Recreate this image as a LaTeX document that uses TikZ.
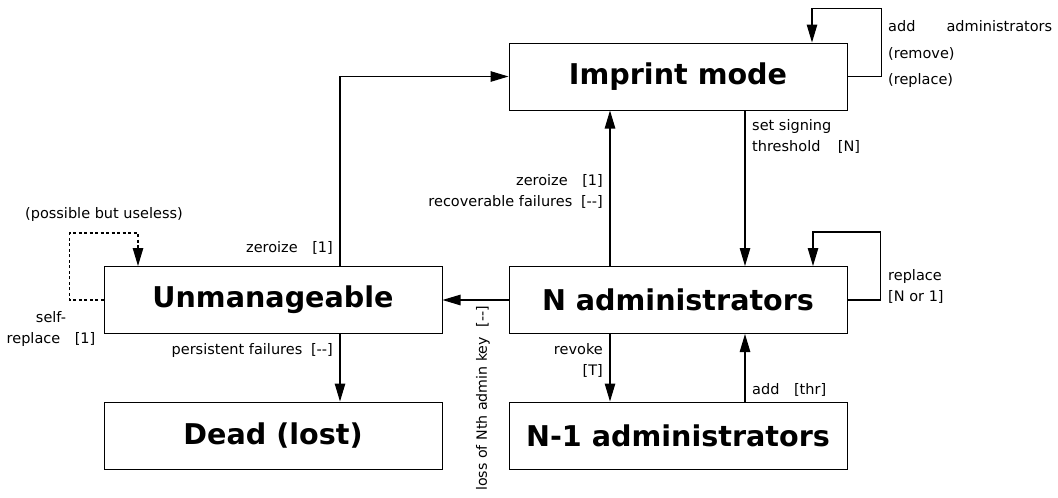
\documentclass[tikz,border=0pt]{standalone}
\usepackage{fontspec}
\setmainfont{DejaVu Sans}
\usetikzlibrary{arrows.meta}
\begin{document}
\begin{tikzpicture}[x=1pt,y=-1pt,
  state/.style={draw, line width=1pt, minimum width=338pt, minimum height=67pt,
    inner sep=0pt, font=\fontsize{28.6}{32}\selectfont\bfseries},
  flow/.style={line width=1.1pt, -{Triangle[length=18pt,width=10.5pt]}},
  lbl/.style={font=\fontsize{14.5}{21}\selectfont, inner sep=0pt},
]
\useasboundingbox (0,0) rectangle (1058,498);

% states
\node[state] (imprint) at (678,76.5)  {Imprint mode};
\node[state] (unman)   at (273,300)   {Unmanageable};
\node[state] (nadm)    at (678,300)   {N administrators};
\node[state] (nm1)     at (678,435.5) {N-1 administrators};
\node[state] (dead)    at (273,435.5) {Dead (lost)};

% transitions
\draw[flow] ([xshift=67pt]unman.north) |- (imprint.west);
\draw[flow] ([xshift=67pt]imprint.south) -- ([xshift=67pt]nadm.north);
\draw[flow] ([xshift=-68pt]nadm.north) -- ([xshift=-68pt]imprint.south);
\draw[flow] (imprint.east) -- ++(34,0) -- ++(0,-68) -| ([xshift=134pt]imprint.north);
\draw[flow] (nadm.east) -- ++(33,0) -- ++(0,-68) -| ([xshift=135pt]nadm.north);
\draw[flow] (nadm.west) -- (unman.east);
\draw[flow] ([xshift=-68pt]nadm.south) -- ([xshift=-68pt]nm1.north);
\draw[flow] ([xshift=67pt]nm1.north) -- ([xshift=67pt]nadm.south);
\draw[flow] ([xshift=67pt]unman.south) -- ([xshift=67pt]dead.north);
\draw[flow, dash pattern=on 3pt off 2.5pt] (unman.west) -- ++(-34,0) -- ++(0,-67) -| ([xshift=-135pt]unman.north);

% transition labels
\node[lbl, anchor=north west, text width=164pt, align=left,
      font=\fontsize{14.5}{26.5}\selectfont] (lblimp) at (888,20.5)
  {add\hfill administrators\\(remove)\\(replace)};
\node[lbl, anchor=north west, align=left] (lblthr) at (752,119.5)
  {set signing\\threshold\hspace{1.2em}[N]};
\node[lbl, anchor=north east, align=right] (lblzero) at (603,174.5)
  {zeroize\hspace{1em}[1]\\recoverable failures\hspace{0.6em}[-{}-]};
\node[lbl, anchor=east] (lblzu) at (333,248) {zeroize\hspace{1em}[1]};
\node[lbl] (lbluse) at (104,214) {(possible but useless)};
\node[lbl, anchor=north, align=center] (lblself) at (51,311) {self-\\replace\hspace{1em}[1]};
\node[lbl, anchor=east] (lblpers) at (333,350) {persistent failures\hspace{0.6em}[-{}-]};
\node[lbl, rotate=90, anchor=east, font=\fontsize{14.2}{21}\selectfont] (lblloss) at (483,305.5)
  {loss of Nth admin key\hspace{0.7em}[-{}-]};
\node[lbl, anchor=north east, align=right] (lblrev) at (603,343.5) {revoke\\{}[T]};
\node[lbl, anchor=west] (lbladd) at (752,390) {add\hspace{1em}[thr]};
\node[lbl, anchor=north west, align=left] (lblrep) at (888,269.5) {replace\\{}[N or 1]};
\end{tikzpicture}
\end{document}
